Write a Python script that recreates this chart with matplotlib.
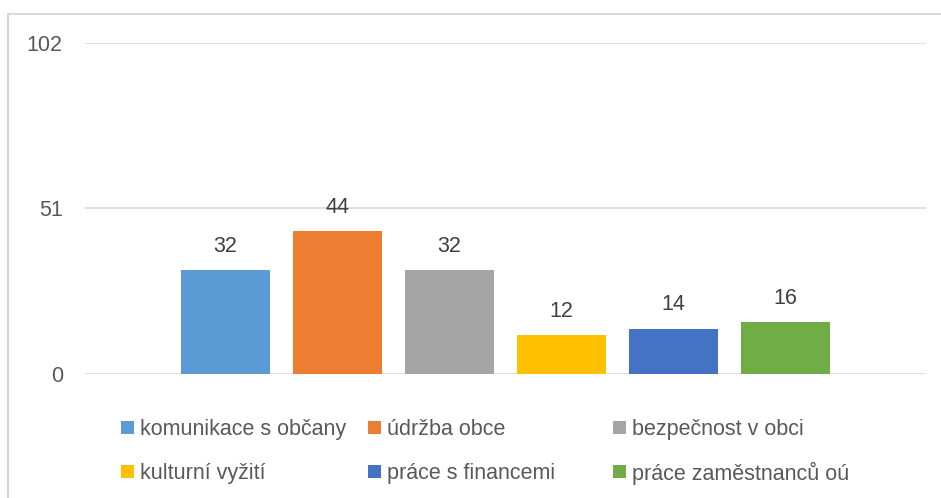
import numpy as np
import matplotlib.pyplot as plt
from matplotlib.patches import Rectangle

series_names = ['komunikace s občany', 'údržba obce', 'bezpečnost v obci',
                'kulturní vyžití', 'práce s financemi', 'práce zaměstnanců oú']
values = [32, 44, 32, 12, 14, 16]
colors = ['#5B9BD5', '#ED7D31', '#A5A5A5', '#FFC000', '#4472C4', '#70AD47']
yticks = [0, 51, 102]

W, H = 941, 498
plt.rcParams['font.family'] = ['Liberation Sans', 'DejaVu Sans']
fs = 15.5

fig = plt.figure(figsize=(W / 100, H / 100), dpi=100)
ax = fig.add_axes([85 / W, 1 - 374 / H, (926 - 85) / W, (374 - 43) / H])

# chart frame (cropped at right/bottom)
fig.patches.append(Rectangle((8 / W, -0.1), 1.2, 1 - 14 / H + 0.1,
                             transform=fig.transFigure, fill=False,
                             edgecolor='#D9D9D9', linewidth=1.5))

bar_w = 89 / 841
step = 112 / 841
for i, (v, c) in enumerate(zip(values, colors)):
    x = (i - 2.5) * step
    ax.bar(x, v, bar_w, color=c, zorder=3)
    ax.annotate(str(v), (x, v), xytext=(0, 17), textcoords='offset points',
                ha='center', va='center', fontsize=fs, color='#404040')

ax.set_xlim(-0.5, 0.5)
ax.set_ylim(0, 102)
ax.set_yticks(yticks)
ax.set_xticks([])
ax.yaxis.grid(True, color='#D9D9D9', linewidth=1.2, zorder=0)
for s in ax.spines.values():
    s.set_visible(False)
ax.tick_params(axis='y', length=0, pad=16, labelsize=fs, labelcolor='#595959')

# legend below the plot, 3 columns x 2 rows
col_x = [121, 368, 613]
row_y = [427, 471]
sq = 13
for i, (name, c) in enumerate(zip(series_names, colors)):
    x0, yc = col_x[i % 3], row_y[i // 3]
    fig.patches.append(Rectangle((x0 / W, 1 - (yc + sq / 2) / H), sq / W, sq / H,
                                 transform=fig.transFigure, facecolor=c,
                                 edgecolor='none'))
    fig.text((x0 + sq + 6) / W, 1 - yc / H, name, fontsize=fs, color='#595959',
             ha='left', va='center_baseline')

fig.savefig('out.png', dpi=100)
